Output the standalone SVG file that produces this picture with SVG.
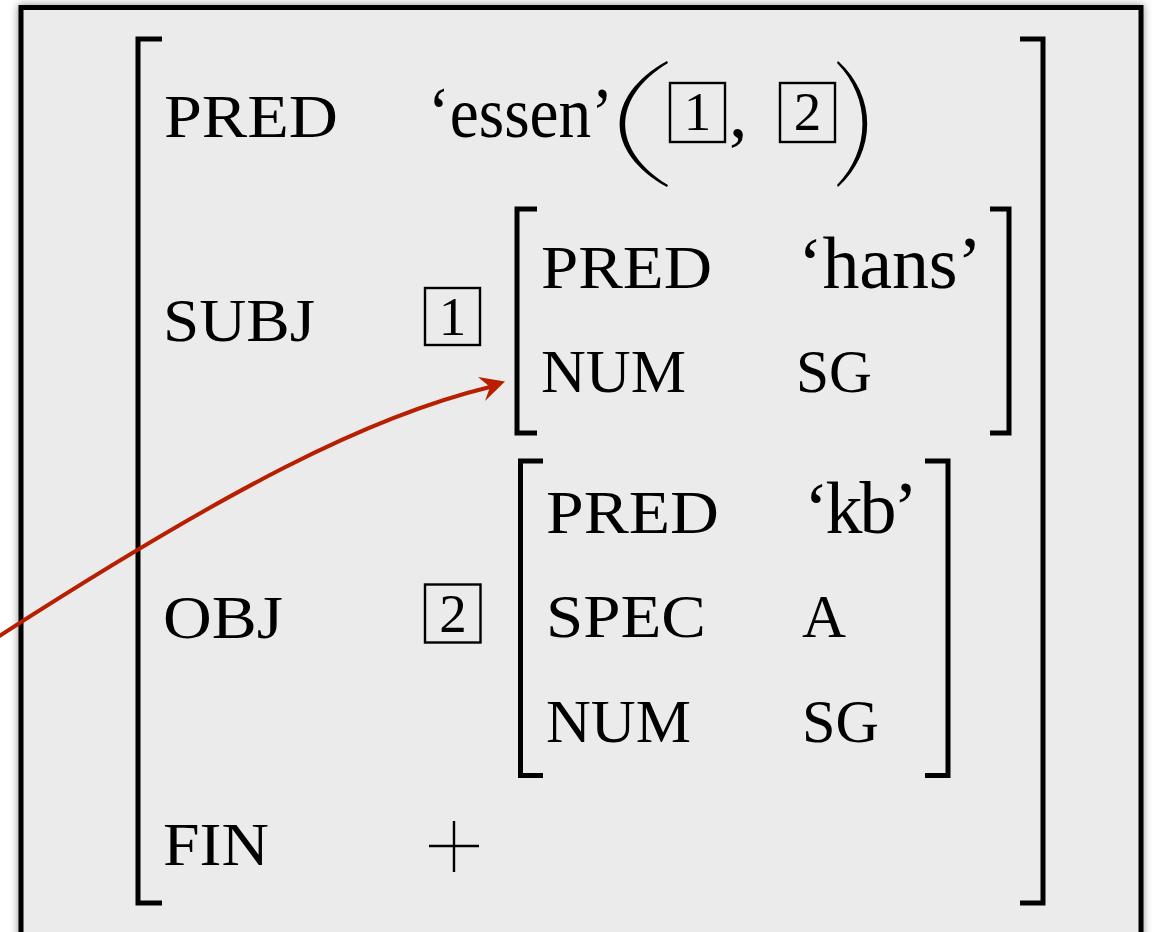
<svg xmlns="http://www.w3.org/2000/svg" width="1154" height="932" viewBox="0 0 1154 932">
<style>
.sc{font-family:"Liberation Serif","Times New Roman",serif;font-size:61px;fill:#000}
.rm{font-family:"Liberation Serif","Times New Roman",serif;font-size:74px;fill:#000}
.dg{font-family:"Liberation Serif","Times New Roman",serif;font-size:55px;fill:#000;text-anchor:middle}
.br{fill:none;stroke:#000;stroke-width:5;stroke-linecap:butt;stroke-linejoin:miter}
.bx{fill:none;stroke:#000;stroke-width:2.4}
.pl{fill:none;stroke:#000;stroke-width:2.4}
.par{fill:#000;stroke:none}
</style>
<defs>
<filter id="sh" x="-5%" y="-5%" width="110%" height="110%">
<feDropShadow dx="0" dy="0" stdDeviation="4" flood-color="#000" flood-opacity="0.45"/>
</filter>
</defs>
<rect width="1154" height="932" fill="#ffffff"/>
<g id="frame">
<rect x="21" y="7.5" width="1120" height="940" fill="#ebebeb" stroke="#000" stroke-width="5" filter="url(#sh)"/>
</g>
<g id="outer-brackets">
<path class="br" d="M162,39 H138 V903 H162"/>
<path class="br" d="M1020,39 H1043 V903 H1020"/>
</g>
<g id="pred-row">
<text class="sc" x="164" y="137" textLength="174" lengthAdjust="spacingAndGlyphs">PRED</text>
<text class="rm" x="428" y="137" style="font-size:71px" textLength="185" lengthAdjust="spacingAndGlyphs">‘essen’</text>
<path class="par" d="M667,61 C604,96 604,152 667,187 L668,185 C611,150 611,98 668,63 Z"/>
<rect class="bx" x="670" y="83" width="55" height="59"/>
<text class="dg" x="697.5" y="130">1</text>
<text class="rm" x="729" y="137">,</text>
<rect class="bx" x="780" y="83" width="55" height="59"/>
<text class="dg" x="807.5" y="130">2</text>
<path class="par" d="M838,61 C877,96 877,152 838,187 L837,185 C871,150 871,98 837,63 Z"/>
</g>
<g id="subj-row">
<text class="sc" x="163" y="341" textLength="152" lengthAdjust="spacingAndGlyphs">SUBJ</text>
<rect class="bx" x="425" y="288" width="55" height="57"/>
<text class="dg" x="452.5" y="335">1</text>
<path class="br" d="M537,209 H517 V433 H537"/>
<path class="br" d="M990,209 H1009 V433 H990"/>
<text class="sc" x="541" y="288" textLength="171" lengthAdjust="spacingAndGlyphs">PRED</text>
<text class="rm" x="798" y="288" textLength="184" lengthAdjust="spacing">‘hans’</text>
<text class="sc" x="541" y="392" textLength="145" lengthAdjust="spacingAndGlyphs">NUM</text>
<text class="sc" x="796" y="392" textLength="76" lengthAdjust="spacingAndGlyphs">SG</text>
</g>
<g id="obj-row">
<text class="sc" x="163" y="638" textLength="120" lengthAdjust="spacingAndGlyphs">OBJ</text>
<rect class="bx" x="425" y="584.5" width="55.5" height="58"/>
<text class="dg" x="453" y="632">2</text>
<path class="br" d="M543,461 H520.5 V775.5 H543"/>
<path class="br" d="M925,461 H948 V775.5 H925"/>
<text class="sc" x="546" y="533" textLength="173" lengthAdjust="spacingAndGlyphs">PRED</text>
<text class="rm" x="804" y="533" textLength="114" lengthAdjust="spacing">‘kb’</text>
<text class="sc" x="546" y="637" textLength="160" lengthAdjust="spacingAndGlyphs">SPEC</text>
<text class="sc" x="802" y="637">A</text>
<text class="sc" x="546" y="742" textLength="145" lengthAdjust="spacingAndGlyphs">NUM</text>
<text class="sc" x="802" y="742" textLength="77" lengthAdjust="spacingAndGlyphs">SG</text>
</g>
<g id="fin-row">
<text class="sc" x="163" y="865" textLength="106" lengthAdjust="spacingAndGlyphs">FIN</text>
<line class="pl" x1="454" y1="821" x2="454" y2="872"/>
<line class="pl" x1="429" y1="846" x2="479" y2="846"/>
</g>
<g id="connectors">
<path d="M-10,642 C230,487 370,416 490,387" fill="none" stroke="#b81e00" stroke-width="4"/>
<polygon points="505,381.5 478,377 490,387 485,401" fill="#b81e00"/>
</g>
</svg>
